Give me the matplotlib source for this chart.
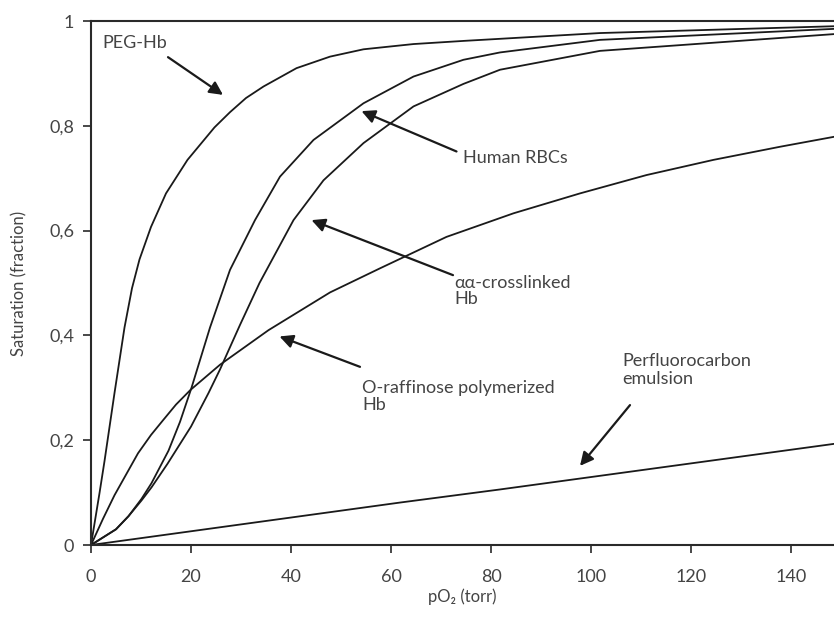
import matplotlib
matplotlib.use("Agg")
import matplotlib.pyplot as plt

plt.rcParams['font.family'] = ['Lato', 'DejaVu Sans']

## values (pO2 in torr, saturation as fraction)
peg_x = [0, 1.7, 2.7, 4.7, 6.7, 8.2, 9.7, 12, 15, 19.3, 24.7, 27.8, 31, 34.5, 41.1, 47.8, 54.5, 64.5, 74.5, 81.8, 101.8, 148.6]
peg_y = [0, 0.099, 0.16, 0.29, 0.415, 0.49, 0.545, 0.607, 0.671, 0.735, 0.797, 0.826, 0.853, 0.875, 0.91, 0.932, 0.946, 0.956, 0.962, 0.966, 0.977, 0.99]

rbc_x = [0, 5, 7.5, 10.1, 12.1, 15.5, 17.8, 20.1, 23.8, 27.8, 32.8, 37.8, 44.5, 54.5, 64.5, 74.5, 81.8, 101.8, 148.6]
rbc_y = [0, 0.03, 0.055, 0.088, 0.118, 0.18, 0.235, 0.30, 0.415, 0.525, 0.62, 0.703, 0.773, 0.843, 0.894, 0.926, 0.94, 0.964, 0.985]

aa_x = [0, 5, 7.5, 10.1, 12.1, 15.3, 20, 23.5, 25.8, 29.8, 33.7, 40.5, 46.5, 54.5, 64.5, 74.5, 81.8, 101.8, 148.6]
aa_y = [0, 0.03, 0.055, 0.085, 0.11, 0.155, 0.226, 0.29, 0.335, 0.42, 0.50, 0.62, 0.696, 0.767, 0.837, 0.88, 0.907, 0.943, 0.975]

oraf_x = [0, 2.4, 4.7, 9.4, 12, 14.4, 17, 19.9, 25.8, 35.5, 47.8, 57.8, 71.1, 84.5, 97.8, 111.1, 124.5, 137.8, 148.6]
oraf_y = [0, 0.05, 0.095, 0.175, 0.21, 0.238, 0.268, 0.296, 0.344, 0.41, 0.482, 0.528, 0.588, 0.633, 0.671, 0.706, 0.735, 0.76, 0.779]

pfc_x = [0, 61.8, 81.8, 148.6]
pfc_y = [0, 0.081, 0.106, 0.193]

x_ticks = [0, 20, 40, 60, 80, 100, 120, 140]
y_ticks = [0, 0.2, 0.4, 0.6, 0.8, 1]
y_labels = ["0", "0,2", "0,4", "0,6", "0,8", "1"]

line_col = "#1a1a1a"
text_col = "#444444"

fig = plt.figure(figsize=(8.34, 6.27), dpi=100)
ax = fig.add_axes([91/834, 82/627, 743/834, 524/627])

for xs, ys in [(peg_x, peg_y), (rbc_x, rbc_y), (aa_x, aa_y), (oraf_x, oraf_y), (pfc_x, pfc_y)]:
    ax.plot(xs, ys, color=line_col, lw=1.3, solid_joinstyle='round', solid_capstyle='round')

ax.set_xlim(0, 148.6)
ax.set_ylim(0, 1)

## spines: no right one (chart is cut at the edge)
ax.spines['right'].set_visible(False)
for s in ['left', 'bottom', 'top']:
    ax.spines[s].set_linewidth(1.5)
    ax.spines[s].set_color("#2a2a2a")

ax.set_xticks(x_ticks)
ax.set_xticklabels([str(v) for v in x_ticks])
ax.set_yticks(y_ticks)
ax.set_yticklabels(y_labels)
ax.tick_params(axis='x', direction='out', length=6, width=1.2, colors="#2a2a2a", labelcolor=text_col, labelsize=13, pad=11)
ax.tick_params(axis='y', direction='out', length=6, width=1.2, colors="#2a2a2a", labelcolor=text_col, labelsize=13, pad=6)

ax.set_xlabel("pO₂ (torr)", fontsize=12, color=text_col, labelpad=3)
ax.set_ylabel("Saturation (fraction)", fontsize=12, color=text_col, labelpad=16)

#### labels + arrows
arrow = dict(arrowstyle='-|>', color=line_col, lw=1.6, mutation_scale=20, shrinkA=0, shrinkB=0)
tkw = dict(fontsize=13, color=text_col, va='center', ha='left')

ax.text(2.2, 0.958, "PEG-Hb", **tkw)
ax.annotate("", xy=(26.4, 0.859), xytext=(15.4, 0.931), arrowprops=arrow)

ax.text(74.4, 0.739, "Human RBCs", **tkw)
ax.annotate("", xy=(54.1, 0.828), xytext=(73.1, 0.751), arrowprops=arrow)

ax.text(72.6, 0.485, "αα-crosslinked\nHb", linespacing=1.05, **tkw)
ax.annotate("", xy=(44.1, 0.620), xytext=(72.4, 0.515), arrowprops=arrow)

ax.text(54.3, 0.283, "O-raffinose polymerized\nHb", linespacing=1.1, **tkw)
ax.annotate("", xy=(37.7, 0.398), xytext=(53.8, 0.340), arrowprops=arrow)

ax.text(106.3, 0.334, "Perfluorocarbon\nemulsion", linespacing=1.1, **tkw)
ax.annotate("", xy=(97.8, 0.151), xytext=(107.8, 0.267), arrowprops=arrow)

fig.savefig("out.png", dpi=100)
